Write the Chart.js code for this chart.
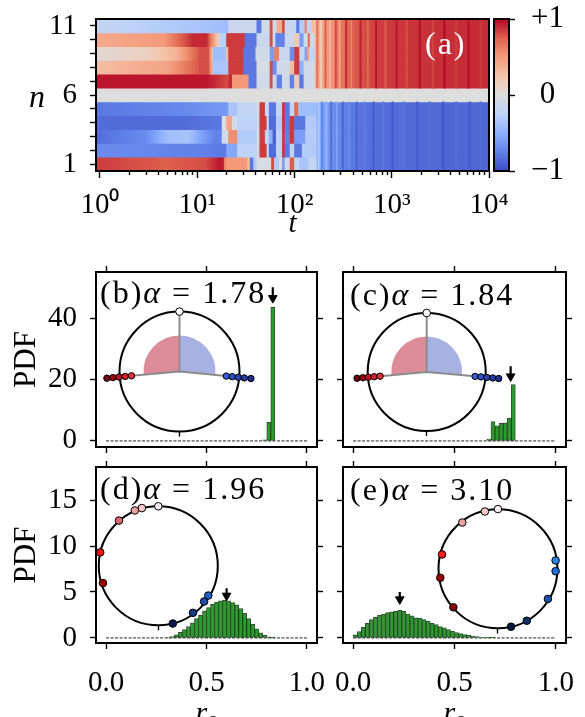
<!DOCTYPE html>
<html><head><meta charset="utf-8">
<script src="https://cdn.jsdelivr.net/npm/chart.js@4/dist/chart.umd.min.js"></script>
<style>
html,body{margin:0;padding:0;background:#fff;}
#wrap{position:relative;width:585px;height:717px;overflow:hidden;background:#fff;}
#wrap canvas{position:absolute;left:0;top:0;}
.lbl{position:absolute;font-family:'Liberation Serif','Times New Roman',serif;font-size:32px;line-height:1;white-space:nowrap;color:#000;letter-spacing:2px;}
.lbl .eq{margin:0 10px;}
</style></head><body>
<div id="wrap">
<canvas id="cA" width="585" height="717"></canvas>
<canvas id="cCB" width="585" height="717"></canvas>
<canvas id="cB" width="585" height="717"></canvas>
<canvas id="cC" width="585" height="717"></canvas>
<canvas id="cD" width="585" height="717"></canvas>
<canvas id="cE" width="585" height="717"></canvas>
<canvas id="pB" width="585" height="717"></canvas>
<canvas id="pC" width="585" height="717"></canvas>
<canvas id="iB" width="585" height="717"></canvas>
<canvas id="iC" width="585" height="717"></canvas>
<canvas id="iD" width="585" height="717"></canvas>
<canvas id="iE" width="585" height="717"></canvas>
<div class="lbl" style="left:425px;top:27px;color:#fff;">(a)</div>
<div class="lbl" style="left:29px;top:80px;font-style:italic;">n</div>
<div class="lbl" style="left:100px;top:276px;">(b)<i>α</i><span class="eq">=</span>1.78</div>
<div class="lbl" style="left:350px;top:278px;">(c)<i>α</i><span class="eq">=</span>1.84</div>
<div class="lbl" style="left:100px;top:472px;">(d)<i>α</i><span class="eq">=</span>1.96</div>
<div class="lbl" style="left:350px;top:473px;">(e)<i>α</i><span class="eq">=</span>3.10</div>
</div>
<script>
// ===================== DATA =====================
const tMin = 0.91, tMax = 10000;
const nRows = [1,2,3,4,5,6,7,8,9,10,11];
const nLabeled = [1,6,11];
const tDecades = [1,10,100,1000,10000];
const tDecadeLabels = ['10⁰','10¹','10²','10³','10⁴'];
// each row: [t_start, value_at_start, value_at_end] ... last entry = [t_end]
const row11 = [[0.91,-0.2,-0.35],[10,-0.35,-0.4],[21,-0.15],[41,-0.8],[46,-0.1],[56,0.8],[60,-0.1],[66,0.4],[75,0.8],[80,-0.15,-0.2],[105,-0.8],[113,-0.3],[128,0.6],[135,-0.2],[150,0.3],[162]];
const row10 = [[0.91,0.42,0.5],[4.5,0.5,0.9],[9,0.9],[12.5,0.9,0.1],[17,-0.25],[20,0.85],[31,-0.8],[41,-0.15],[56,0.8],[60,-0.1],[64,-0.75],[80,-0.15],[100,0.2],[113,-0.6],[125,-0.1],[138,0.7],[145,-0.1],[162]];
const row9  = [[0.91,0.05,0.15],[3,0.15,0.35],[6,0.35,0.78],[10.5,0.8],[13,0.8,0.2],[14.5,-0.4],[20,0.3],[21,0.85],[30,-0.8],[40,-0.1],[56,-0.6],[62,0.6],[70,-0.15],[90,-0.7],[100,0.85],[113,-0.2],[128,-0.6],[135,0.5],[142,-0.2],[162]];
const row8  = [[0.91,0.3,0.45],[5,0.45,0.78],[10.5,0.8],[13,0.8,0.3],[14.5,-0.35],[21,0.85],[30,-0.8],[41,-0.05],[56,0.8],[60,-0.7],[66,-0.1],[90,0.3],[100,0.85],[113,-0.5],[125,-0.1],[162]];
const row7  = [[0.91,0.95],[12.6,0.95,0.8],[21,0.9],[23,0.5],[34,-0.8],[41,-0.1],[56,0.8],[60,-0.15],[66,-0.75],[75,-0.1],[90,-0.75],[100,0.2],[113,-0.8],[125,-0.1],[162]];
const row6  = [[0.91,0],[10000]];
const row5  = [[0.91,-0.8,-0.72],[7,-0.72,-0.62],[21,-0.35],[26,-0.2],[41,-0.1],[44,0.85],[50,-0.15],[55,-0.8],[65,-0.2],[75,0.85],[80,-0.8],[90,-0.2],[100,0.7],[110,-0.4],[170]];
const row4  = [[0.91,-0.85],[7,-0.85,-0.8],[18,0.0],[20,0.45],[23,-0.1],[26,-0.25],[41,-0.15],[44,0.85],[52,-0.2],[55,-0.85],[65,-0.3],[75,0.85],[80,-0.8],[90,0.85],[100,-0.8],[130,-0.3],[170]];
const row3  = [[0.91,-0.85,-0.7],[3,-0.7,-0.4],[5,-0.4,-0.35],[8,-0.35,-0.55],[10.5,-0.55,-0.75],[15,-0.75],[18,-0.1],[21,0.55],[26,-0.3],[41,-0.1],[44,0.85],[50,-0.2],[55,-0.5],[60,-0.9],[65,-0.25],[75,0.85],[80,-0.75],[90,0.85],[100,-0.6],[130,-0.3],[170]];
const row2  = [[0.91,-0.7,-0.75],[10,-0.75,-0.8],[20,-0.55],[26,-0.25],[41,-0.1],[44,0.85],[52,-0.2],[55,-0.85],[65,-0.2],[75,0.85],[80,-0.8],[90,-0.2],[100,-0.8],[120,-0.3],[170]];
const row1  = [[0.91,0.85,0.75],[5,0.75,0.8],[12,0.8,0.95],[17,0.95,0.9],[19,0.6],[20,0.5],[33,0.3],[35,-0.8],[38,-0.3],[41,-0.05],[58,0.8],[62,-0.3],[70,-0.05],[75,-0.6],[80,-0.1],[90,0.75],[100,-0.2],[113,-0.35],[140,-0.2],[170]];
const rowSeries = [row1,row2,row3,row4,row5,row6,row7,row8,row9,row10,row11];
const topRows = [7,8,9,10,11], bottomRows = [1,2,3,4,5];
const topLate = [[162,0.3,0.45],[200,0.45,0.55],[250,0.55,0.68],[320,0.68,0.78],[450,0.78,0.84],[700,0.84,0.87],[1500,0.87,0.9],[10000]];
const bottomLate = [[170,-0.5,-0.6],[200,-0.6,-0.7],[260,-0.7,-0.78],[350,-0.78,-0.83],[550,-0.83,-0.86],[1200,-0.86,-0.88],[10000]];
const topStripes = [[168,175,0.65],[185,190,0.2],[205,212,0.75],[230,236,0.35],[262,270,0.82],[290,296,0.45],[335,345,0.9],[380,388,0.6],[470,485,0.92],[560,575,0.7],[680,700,0.95],[850,875,0.75],[1100,1140,0.95],[1400,1450,0.8],[1900,1980,0.96],[2600,2700,0.83],[3400,3550,0.97],[4500,4700,0.85],[6000,6300,0.96],[8000,8400,0.86]];
const bottomStripes = [[175,180,-0.3],[190,195,-0.75],[210,216,-0.45],[235,242,-0.85],[270,276,-0.55],[310,318,-0.9],[360,370,-0.7],[430,440,-0.92],[520,535,-0.76],[640,660,-0.93],[800,825,-0.8],[1000,1040,-0.93],[1300,1350,-0.82],[1800,1870,-0.93],[2400,2500,-0.83],[3300,3450,-0.94],[4500,4700,-0.84],[6200,6500,-0.93],[8000,8400,-0.85]];
const cbTicks = [-1,0,1];
const cbLabels = ['−1','0','+1'];
const binWidth = 0.02;
const binsB = [0.78,0.80,0.82];
const pdfB  = [0.3,6.0,43.5];
const binsC = [0.66,0.68,0.70,0.72,0.74,0.76,0.78];
const pdfC  = [0.6,6.3,4.9,5.7,5.9,7.4,18.3];
const binStartD = 0.30;
const pdfD  = [0.05,0.15,0.35,0.6,0.9,1.25,1.65,2.1,2.5,2.95,3.3,3.65,3.9,4.05,4.1,4.05,3.85,3.6,3.2,2.7,2.1,1.5,1.0,0.55,0.3,0.12,0.04];
const binStartE = 0.00;
const pdfE  = [0.35,0.7,1.15,1.6,2.0,2.25,2.45,2.6,2.75,2.85,2.9,3.0,2.9,2.6,2.4,2.2,2.15,2.0,1.8,1.6,1.45,1.25,1.1,0.9,0.72,0.58,0.47,0.36,0.28,0.2,0.14,0.1,0.07,0.04,0.03];
const arrowX   = [0.83, 0.777, 0.60, 0.23];
const arrowTop = [50.0, 24.3, 5.4, 5.0];
const arrowTip = [46.5, 21.0, 4.6, 4.2];
const xTicksHist = [0, 0.5, 1];
const xLabelsHist = ['0.0','0.5','1.0'];
const yTicksTop = [0,20,40];
const yTicksBottom = [0,5,10,15];
const ptsBx = [0,-1.21,-1.11,-1.01,-0.905,-0.80,0.78,0.88,0.98,1.08,1.19];
const ptsBy = [1.0,-0.11,-0.10,-0.09,-0.08,-0.07,-0.075,-0.085,-0.095,-0.105,-0.115];
const ptsCx = [0,-1.18,-1.08,-0.99,-0.89,-0.79,0.82,0.92,1.02,1.12,1.22];
const ptsCy = [1.0,-0.105,-0.097,-0.089,-0.08,-0.071,-0.074,-0.083,-0.092,-0.101,-0.11];
const colsBC = ['#ffffff','#6e0010','#9a0016','#c0101f','#d8202c','#e03038','#3a58d8','#3050c8','#2846b4','#203ca0','#1a2e86'];
const ptsDx = [0,-0.276,-0.395,-0.66,-0.976,-0.93,0.244,0.583,0.77,0.84];
const ptsDy = [1.0,0.97,0.93,0.76,0.225,-0.29,-0.97,-0.79,-0.6,-0.5];
const colsD = ['#fbeeee','#f6c8c8','#eea2a2','#e06a6a','#ee1414','#a00000','#0a1a50','#123a80','#1a50a4','#1f60c4'];
const ptsEx = [0,-0.22,-0.6,-0.94,-0.97,-0.75,0.22,0.485,0.84,0.97,0.97];
const ptsEy = [1.0,0.96,0.775,0.24,-0.15,-0.645,-0.97,-0.87,-0.505,-0.04,0.14];
const colsE = ['#f8eaea','#f5c8c8','#eca0a0','#ff1a1a','#990000','#880000','#001a40','#0a2d6e','#1552a8','#1f6fd8','#2a80e8'];
const wedgeShares = [95,170,95];

// ===================== STYLE / LAYOUT =====================
const W = 585, H = 717;
const FONT = "'Liberation Serif','Times New Roman',serif";
Chart.defaults.font.family = FONT;
Chart.defaults.font.size = 29;
Chart.defaults.color = '#000';
const CW = [[-1,59,76,192],[-0.75,98,130,234],[-0.5,141,176,254],[-0.25,189,210,247],[0,221,221,221],[0.25,244,198,172],[0.5,244,154,123],[0.75,221,96,77],[1,180,4,38]];
function cmap(v){
  v = Math.max(-1, Math.min(1, v));
  for (let i=0;i<CW.length-1;i++){
    const a=CW[i], b=CW[i+1];
    if (v<=b[0]){ const f=(v-a[0])/(b[0]-a[0]);
      return 'rgb('+Math.round(a[1]+f*(b[1]-a[1]))+','+Math.round(a[2]+f*(b[2]-a[2]))+','+Math.round(a[3]+f*(b[3]-a[3]))+')'; }
  }
  return 'rgb(180,4,38)';
}
const fix = (size) => (s) => { if (s.isHorizontal()) s.height = size; else s.width = size; s.paddingLeft = s.paddingRight = s.paddingTop = s.paddingBottom = 0; };
const framePlugin = { id:'frame', afterDraw(chart){ const {ctx, chartArea:a} = chart; ctx.save(); ctx.strokeStyle='#000'; ctx.lineWidth=2; ctx.strokeRect(a.left, a.top, a.right-a.left, a.bottom-a.top); ctx.restore(); } };
const base = { responsive:false, animation:false, events:[], devicePixelRatio:1, plugins:{legend:{display:false}, tooltip:{enabled:false}} };
const tickGrid = (len) => ({drawOnChartArea:false, drawTicks:true, tickLength:len, tickColor:'#000', tickWidth:1.4, offset:false});
const ok = (v) => typeof v === 'number' && isFinite(v);

// ===================== HEATMAP (a) =====================
const A = {L:96, T:19, R:489, B:171};
function addRow(n, arr, out){
  for (let i=0;i<arr.length-1;i++){
    const s=arr[i], e=arr[i+1];
    out.push({y:n, x:[s[0], e[0]], v0:s[1], v1:(s.length>2?s[2]:s[1])});
  }
}
const heatBase = [], heatStripes = [];
nRows.forEach((n,i) => {
  addRow(n, rowSeries[i], heatBase);
  if (topRows.includes(n)) { addRow(n, topLate, heatBase); topStripes.forEach(s => heatStripes.push({y:n, x:[s[0],s[1]], v0:s[2], v1:s[2]})); }
  if (bottomRows.includes(n)) { addRow(n, bottomLate, heatBase); bottomStripes.forEach(s => heatStripes.push({y:n, x:[s[0],s[1]], v0:s[2], v1:s[2]})); }
});
const heatFill = (ctx) => {
  if (ctx.type !== 'data' || !ctx.raw) return '#ddd';
  const r = ctx.raw;
  if (r.v0 === r.v1) return cmap(r.v0);
  const xs = ctx.chart.scales.x;
  if (!xs) return cmap((r.v0+r.v1)/2);
  const p0 = xs.getPixelForValue(r.x[0]), p1 = xs.getPixelForValue(r.x[1]);
  if (!ok(p0) || !ok(p1) || p0 === p1) return cmap((r.v0+r.v1)/2);
  const g = ctx.chart.ctx.createLinearGradient(p0,0,p1,0);
  for (let k=0;k<=4;k++){ const f=k/4; g.addColorStop(f, cmap(r.v0 + f*(r.v1-r.v0))); }
  return g;
};
const tTicks = [];
tDecades.forEach((d,i) => { tTicks.push(d); if (i < tDecades.length-1) for (let m=2;m<=9;m++) tTicks.push(d*m); });
const heatDs = (data) => ({data, backgroundColor:heatFill, borderWidth:0, barPercentage:1, categoryPercentage:1, grouped:false});
try {
new Chart(document.getElementById('cA'), {
  type:'bar',
  data:{datasets:[heatDs(heatStripes), heatDs(heatBase)]},
  options: Object.assign({}, base, {
    indexAxis:'y',
    layout:{padding:{left:A.L-96, top:A.T, right:W-A.R, bottom:H-A.B-74}},
    scales:{
      x:{type:'logarithmic', min:tMin, max:tMax, position:'bottom',
        afterBuildTicks:(s)=>{ s.ticks = tTicks.map(v=>({value:v, major:tDecades.includes(v)})); },
        afterFit:fix(74),
        ticks:{autoSkip:false, maxRotation:0, padding:10, callback:(v)=>{ const i=tDecades.indexOf(v); return i>=0 ? tDecadeLabels[i] : ''; }},
        grid:Object.assign(tickGrid(7), {tickBorderDash:(c)=> (c.tick && c.tick.major) ? [] : [4,60]}),
        border:{display:false},
        title:{display:true, text:'t', font:{style:'italic', size:29, lineHeight:1.2}, padding:{top:0, bottom:3}}
      },
      y:{type:'linear', min:0.5, max:11.5, offset:false, position:'left',
        afterBuildTicks:(s)=>{ s.ticks = nRows.map(v=>({value:v})); },
        afterFit:fix(96),
        ticks:{autoSkip:false, padding:13, callback:(v)=> nLabeled.includes(v) ? String(v) : ''},
        grid:tickGrid(6), border:{display:false}
      }
    }
  }),
  plugins:[framePlugin]
});
} catch(e) { console.error(e); }

// ===================== COLORBAR =====================
const CB = {L:494, T:19, R:509, B:171};
try {
new Chart(document.getElementById('cCB'), {
  type:'bar',
  data:{labels:['c'], datasets:[{data:[[cbTicks[0], cbTicks[2]]], borderWidth:0, barPercentage:1, categoryPercentage:1,
    backgroundColor:(ctx)=>{ const ys=ctx.chart.scales.y; if(!ys) return '#ddd';
      const a=ys.getPixelForValue(-1), b=ys.getPixelForValue(1);
      if (!ok(a) || !ok(b) || a===b) return '#ddd';
      const g=ctx.chart.ctx.createLinearGradient(0, a, 0, b);
      CW.forEach(s => g.addColorStop((s[0]+1)/2, cmap(s[0]))); return g; }}]},
  options:Object.assign({}, base, {
    layout:{padding:{left:CB.L, top:CB.T, right:W-CB.R-76, bottom:H-CB.B}},
    scales:{
      x:{display:false},
      y:{type:'linear', min:-1, max:1, position:'right',
        afterBuildTicks:(s)=>{ s.ticks = cbTicks.map(v=>({value:v})); },
        afterFit:fix(76),
        ticks:{crossAlign:'center', padding:16, font:{size:31}, callback:(v,i)=>cbLabels[i]},
        grid:tickGrid(6), border:{display:false}}
    }
  }),
  plugins:[framePlugin]
});
} catch(e) { console.error(e); }

// ===================== HISTOGRAMS =====================
function histData(bins, pdf){ return pdf.map((p,i)=>({x: bins[i] + binWidth/2, y: p})); }
function uniformBins(start, n){ const b=[]; for(let i=0;i<n;i++) b.push(+(start + i*binWidth).toFixed(4)); return b; }
function histChart(id, area, o){
  const wl = o.ylab ? 96 : 7, hb = o.xlab ? 74 : 7;
  const yt = o.yticks;
  const xAx = (pos, labels) => ({type:'linear', min:-0.05, max:1.05, offset:false, position:pos,
      afterBuildTicks:(s)=>{ s.ticks = xTicksHist.map(v=>({value:v})); },
      afterFit:fix(pos==='bottom' ? hb : 7),
      ticks:{display:labels, autoSkip:false, maxRotation:0, padding:17, callback:(v)=>xLabelsHist[xTicksHist.indexOf(v)]},
      grid:tickGrid(6), border:{display:false},
      title: (labels ? {display:true, text:'r₂', font:{style:'italic', size:30, lineHeight:0.8}, padding:{top:0,bottom:-9}} : {display:false})});
  const yAx = (pos, labels) => ({type:'linear', min:o.ymin, max:o.ymax, position:pos,
      afterBuildTicks:(s)=>{ s.ticks = yt.map(v=>({value:v})); },
      afterFit:fix(pos==='left' ? wl : 7),
      ticks:{display:labels, autoSkip:false, padding:13, callback:(v)=>String(v)},
      grid:tickGrid(6), border:{display:false},
      title:(labels ? {display:true, text:'PDF', font:{size:31, lineHeight:1.2}, padding:{top:8,bottom:0}} : {display:false})});
  try {
  new Chart(document.getElementById(id), {
    type:'bar',
    data:{datasets:[
      {type:'line', order:0, data:[{x:o.ax, y:o.atop},{x:o.ax, y:o.atip}], borderColor:'#000', borderWidth:2.2,
        pointStyle:(c)=> c.dataIndex===1 ? 'triangle' : 'circle', pointRotation:180, pointRadius:[0,5],
        pointBackgroundColor:'#000', pointBorderColor:'#000', pointBorderWidth:1, clip:false},
      {type:'bar', order:1, data:o.data, backgroundColor:'#2c9a2c', borderColor:'rgba(0,35,0,0.8)', borderWidth:1,
        borderSkipped:false, barPercentage:1, categoryPercentage:1, grouped:false},
      {type:'line', order:2, data:[{x:0,y:0},{x:1,y:0}], borderColor:'rgba(115,115,115,0.9)', borderWidth:1.8, borderDash:[3,1.5], pointRadius:0}
    ]},
    options:Object.assign({}, base, {
      layout:{padding:{left:area.L-wl, top:area.T-7, right:W-area.R-7, bottom:H-area.B-hb}},
      scales:{ x:xAx('bottom', o.xlab), x2:xAx('top', false), y:yAx('left', o.ylab), y2:yAx('right', false) }
    }),
    plugins:[framePlugin]
  });
  } catch(e) { console.error(e); }
}
const PB = {L:96, T:272, R:317, B:447}, PC = {L:343, T:272, R:566, B:447};
const PD = {L:96, T:467, R:317, B:643}, PE = {L:343, T:467, R:566, B:643};
histChart('cB', PB, {xlab:false, ylab:true,  ymin:-2, ymax:55, yticks:yTicksTop, data:histData(binsB,pdfB), ax:arrowX[0], atop:arrowTop[0], atip:arrowTip[0]});
histChart('cC', PC, {xlab:false, ylab:false, ymin:-2, ymax:55, yticks:yTicksTop, data:histData(binsC,pdfC), ax:arrowX[1], atop:arrowTop[1], atip:arrowTip[1]});
histChart('cD', PD, {xlab:true,  ylab:true,  ymin:-0.55, ymax:18.6, yticks:yTicksBottom, data:histData(uniformBins(binStartD,pdfD.length),pdfD), ax:arrowX[2], atop:arrowTop[2], atip:arrowTip[2]});
histChart('cE', PE, {xlab:true,  ylab:false, ymin:-0.55, ymax:18.6, yticks:yTicksBottom, data:histData(uniformBins(binStartE,pdfE.length),pdfE), ax:arrowX[3], atop:arrowTop[3], atip:arrowTip[3]});

// ===================== INSETS =====================
const IB = {cx:179.5, cy:371.6, r:60}, IC = {cx:426.7, cy:372, r:59};
const ID = {cx:158.3, cy:565.8, r:59.5}, IE = {cx:498.3, cy:568.8, r:59.7};
function wedgeChart(id, c){
  const rr = 0.6*c.r;
  try {
  new Chart(document.getElementById(id), {
    type:'pie',
    data:{labels:['b','n','r'], datasets:[{data:wedgeShares, backgroundColor:['rgb(168,178,226)','rgba(0,0,0,0)','rgb(220,140,152)'], borderWidth:0, hoverOffset:0, offset:0}]},
    options:Object.assign({}, base, {rotation:0, layout:{padding:{left:c.cx-rr, top:c.cy-rr, right:W-c.cx-rr, bottom:H-c.cy-rr}}})
  });
  } catch(e) { console.error(e); }
}
wedgeChart('pB', IB); wedgeChart('pC', IC);
function insetChart(id, c, xs, ys, cols, lines, rad){
  const xr = 1.38, yTop = 1.15;
  const pts = xs.map((x,i)=>({x, y:ys[i]}));
  const ds = [
    {type:'scatter', order:0, data:pts, pointBackgroundColor:cols, pointBorderColor:'#000', pointBorderWidth:1, pointRadius:rad, clip:false},
    {type:'scatter', order:1, data:[{x:0,y:0}], pointBackgroundColor:'rgba(0,0,0,0)', pointBorderColor:'#000', pointBorderWidth:2, clip:false,
      pointRadius:(ctx)=>{ const s=ctx.chart.scales.x; if (!s) return 0; const d=Math.abs(s.getPixelForValue(1)-s.getPixelForValue(0)); return ok(d) ? d : 0; }}
  ];
  lines.forEach(l => ds.push({type:'line', order:2, data:l.map(p=>({x:p[0], y:p[1]})), borderColor:'#8c8c8c', borderWidth:2, pointRadius:0, clip:false}));
  try {
  new Chart(document.getElementById(id), {
    type:'scatter',
    data:{datasets:ds},
    options:Object.assign({}, base, {
      layout:{padding:{left:c.cx-xr*c.r, top:c.cy-yTop*c.r, right:W-(c.cx+xr*c.r), bottom:H-(c.cy+c.r)-6}},
      scales:{
        x:{type:'linear', min:-xr, max:xr, position:'bottom', afterBuildTicks:(s)=>{ s.ticks=[{value:0}]; }, afterFit:fix(6),
           ticks:{display:false}, grid:tickGrid(5), border:{display:false}},
        y:{type:'linear', min:-1, max:yTop, display:false}
      }
    })
  });
  } catch(e) { console.error(e); }
}
const radBC = ptsBx.map((v,i)=> i===0 ? 3.8 : 3.2);
insetChart('iB', IB, ptsBx, ptsBy, colsBC, [[[ptsBx[5],ptsBy[5]],[0,0],[ptsBx[6],ptsBy[6]]], [[0,0],[0,1]]], radBC);
insetChart('iC', IC, ptsCx, ptsCy, colsBC, [[[ptsCx[5],ptsCy[5]],[0,0],[ptsCx[6],ptsCy[6]]], [[0,0],[0,1]]], radBC);
insetChart('iD', ID, ptsDx, ptsDy, colsD, [], 3.8);
insetChart('iE', IE, ptsEx, ptsEy, colsE, [], 3.8);
</script>
</body></html>
